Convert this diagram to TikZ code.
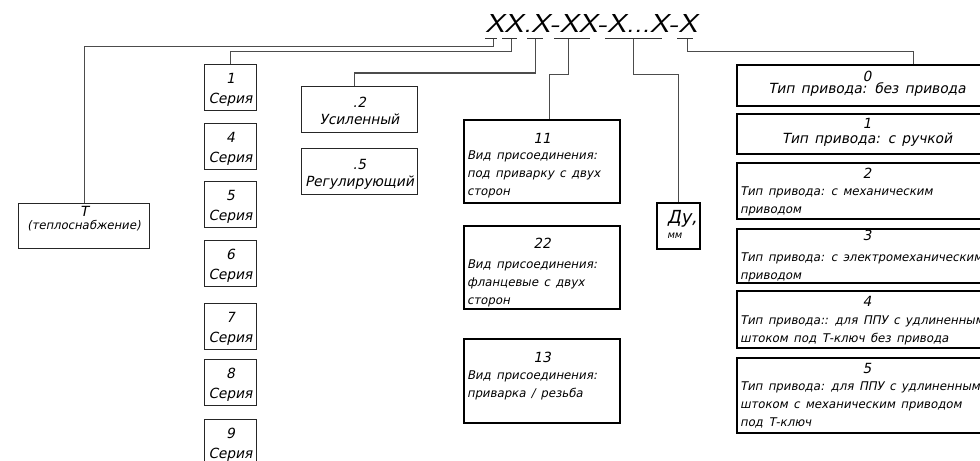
\documentclass[tikz,border=0pt]{standalone}
\usepackage{graphicx}
\usepackage{fontspec}
\setmainfont{DejaVu Sans}[FakeSlant=0.2,FakeStretch=0.98,WordSpace=1.45]
\usetikzlibrary{positioning}

\newlength{\px}
\setlength{\px}{0.75pt}
% cell: width, height, first baseline, contents
\newcommand{\cell}[4]{\parbox[c][#2\px][t]{#1\px}{\leftskip=3\px\rightskip=0pt plus 1fil\rule{0pt}{#3\px}#4}}
\newcommand{\numf}{\fontsize{10.5}{13.5}\selectfont}
\newcommand{\num}[1]{{\centering\numf #1\par}}
\newcommand{\gap}[1]{\vspace{#1\px}}
\newcommand{\serie}[1]{\cell{52}{46}{19}{\centering\numf #1\par\gap{2}Серия\par}}

\begin{document}
\begin{tikzpicture}[x=0.75pt,y=-0.75pt,font=\fontsize{9}{13.5}\selectfont]
    \tikzstyle{thinbox}=[draw=black!85,line width=0.8pt,inner sep=0pt,anchor=north west]
    \tikzstyle{thickbox}=[thinbox,draw=black,line width=1.6pt]
    \tikzstyle{link}=[draw=black!70,line width=0.75pt]

    \useasboundingbox (0,0) rectangle (980,460);
    \clip (0,0) rectangle (980,460);

    % code
    \node[inner sep=0pt,anchor=base west] (code) at (485,33) {\resizebox{212\px}{18\px}{\sffamily\itshape XX.X-XX-X...X-X}};
    \foreach \a/\b in {485/497,502/517,527/543,554/590,605/662,677/693}
        \draw[link,draw=black!80] (\a,39) -- (\b,39);
    \coordinate (k1) at (493,39);
    \coordinate (k2) at (511,39);
    \coordinate (k3) at (535,39);
    \coordinate (k4) at (568,39);
    \coordinate (k5) at (633,39);
    \coordinate (k6) at (687,39);

    % left part
    \node[thinbox] (tbox) at (18,203) {\cell{131}{45}{13}{\centering\numf Т\par\gap{-5}{\fontsize{8.9}{13.5}\selectfont(теплоснабжение)}\par}};
    \foreach \n/\y in {1/64,4/123,5/181,6/240,7/303,8/359,9/419}
        \node[thinbox] (s\n) at (204,\y) {\serie{\n}};
    \node[thinbox] (r2) at (301,86) {\cell{116}{46}{21}{\centering\numf .2\par\gap{-1}Усиленный\par}};
    \node[thinbox] (r5) at (301,148) {\cell{116}{46}{21}{\centering\numf .5\par\gap{-1}Регулирующий\par}};

    % connection
    \node[thickbox] (c11) at (463,119) {\cell{156}{83}{23}{\num{11}\gap{-2}Вид присоединения:\\под приварку с двух\\сторон}};
    \node[thickbox] (c22) at (463,225) {\cell{156}{83}{22}{\num{22}\gap{2}Вид присоединения:\\фланцевые с двух\\сторон}};
    \node[thickbox] (c13) at (463,338) {\cell{156}{84}{23}{\num{13}\gap{-1}Вид присоединения:\\приварка / резьба}};
    \node[thickbox] (du) at (656,202) {\cell{43}{46}{20}{\hspace*{7\px}{\fontsize{13.5}{14}\selectfont Ду,}\par\gap{-3}\hspace*{7\px}{\fontsize{7.5}{8}\selectfont мм}\par}};

    % drive
    \node[thickbox] (d0) at (736,64) {\cell{260}{41}{16}{\centering\numf 0\par\gap{-6}Тип привода: без привода\par}};
    \node[thickbox] (d1) at (736,113) {\cell{260}{40}{14}{\centering\numf 1\par\gap{-3}Тип привода: с ручкой\par}};
    \node[thickbox] (d2) at (736,162) {\cell{260}{56}{15}{\num{2}\gap{-1}Тип привода: с механическим\\приводом}};
    \node[thickbox] (d3) at (736,228) {\cell{260}{54}{11}{\num{3}\gap{3}\mbox{Тип привода: с электромеханическим}\\приводом}};
    \node[thickbox] (d4) at (736,290) {\cell{260}{57}{15}{\num{4}\gap{0}\mbox{Тип привода:: для ППУ с удлиненным}\\\mbox{штоком под Т-ключ без привода}}};
    \node[thickbox] (d5) at (736,357) {\cell{260}{75}{15}{\num{5}\gap{-1}\mbox{Тип привода: для ППУ с удлиненным}\\\mbox{штоком с механическим приводом}\\под Т-ключ}};

    \draw[link] (k1) -- ++(0,8) -| (tbox.north);
    \draw[link] (k2) -- ++(0,13) -| (s1.north);
    \draw[link] (k3) -- ++(0,34) -| ([xshift=-5\px]r2.north);
    \draw[link] (k4) -- ++(0,35) -| ([xshift=7\px]c11.north);
    \draw[link] (k5) -- ++(0,35) -| (du.north);
    \draw[link] (k6) -- ++(0,13) -| ([xshift=177\px]d0.north west);
\end{tikzpicture}
\end{document}
